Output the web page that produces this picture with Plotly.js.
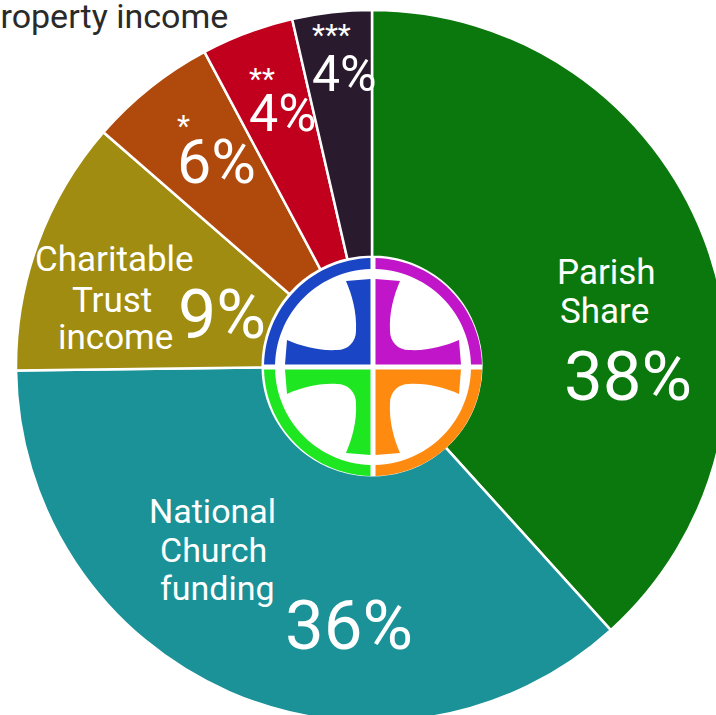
<!DOCTYPE html>
<html>
<head>
<meta charset="utf-8">
<script src="https://cdn.plot.ly/plotly-3.0.1.min.js"></script>
<style>
html,body{margin:0;padding:0;overflow:hidden;background:#fff;width:716px;height:715px;}
#chart{position:absolute;left:0;top:0;}
</style>
</head>
<body>
<div id="chart"></div>
<script>
// ---- data ----
const categories = ["Parish Share", "National Church funding", "Charitable Trust income", "*", "**", "***"];
const values = [38.3, 36.5, 11.6, 5.8, 4.2, 3.6];
const percentLabels = ["38%", "36%", "9%", "6%", "4%", "4%"];
const colors = ["#0b780d", "#1a9298", "#a08c10", "#b04a0c", "#c0001c", "#2a1a2e"];
const topNote = "Property income";

// ---- figure geometry (decoration helpers) ----
const W = 744, H = 732;
const px = x => x / W;
const py = y => 1 - y / H;

const pie = {
  type: "pie",
  labels: categories,
  values: values,
  sort: false,
  direction: "clockwise",
  rotation: 0,
  hole: 0.307,
  textinfo: "none",
  hoverinfo: "none",
  showlegend: false,
  marker: {colors: colors, line: {color: "#ffffff", width: 2.5}},
  domain: {x: [0, 1], y: [10 / H, (H - 10) / H]}
};

// ---- logo (cross in ring) ----
const cx = 373, cy = 367;
const logoColors = {tl: "#1a45c4", tr: "#c015c8", br: "#ff8a10", bl: "#1ee620"};
const shapes = [];
function P(x, y) { return px(cx + x).toFixed(5) + "," + py(cy + y).toFixed(5); }
function ringPath(sx, sy) {
  const R = 109, r = 98, g = 2.5;
  const a0 = Math.asin(g / R), a1 = Math.PI / 2 - Math.asin(g / R);
  const b0 = Math.asin(g / r), b1 = Math.PI / 2 - Math.asin(g / r);
  const n = 30;
  let d = "";
  for (let i = 0; i <= n; i++) {
    const a = a0 + (a1 - a0) * i / n;
    d += (i === 0 ? "M" : "L") + P(sx * R * Math.cos(a), sy * R * Math.sin(a));
  }
  for (let i = n; i >= 0; i--) {
    const a = b0 + (b1 - b0) * i / n;
    d += "L" + P(sx * r * Math.cos(a), sy * r * Math.sin(a));
  }
  return d + "Z";
}
function crossPath(sx, sy) {
  const g = 2.5;
  const p = (x, y) => P(sx * x, sy * y);
  return "M" + p(g, g) +
    "L" + p(g, 88) +
    "L" + p(27, 86) +
    "C" + p(21, 72) + " " + p(16, 55) + " " + p(17, 36) +
    "C" + p(17, 25) + " " + p(25, 17) + " " + p(36, 17) +
    "C" + p(55, 16) + " " + p(72, 21) + " " + p(86, 27) +
    "L" + p(88, g) + "Z";
}
[["tl", -1, -1], ["tr", 1, -1], ["br", 1, 1], ["bl", -1, 1]].forEach(([k, sx, sy]) => {
  shapes.push({type: "path", xref: "paper", yref: "paper", path: ringPath(sx, sy),
    fillcolor: logoColors[k], line: {width: 0}, layer: "above"});
  shapes.push({type: "path", xref: "paper", yref: "paper", path: crossPath(sx, sy),
    fillcolor: logoColors[k], line: {width: 0}, layer: "above"});
});

// ---- labels ----
const F = "Roboto, 'Noto Sans', sans-serif";
function ann(text, x, y, size, color, xanchor, align) {
  return {text: text, x: px(x), y: py(y), xref: "paper", yref: "paper",
    xanchor: xanchor || "center", yanchor: "middle", showarrow: false,
    align: align || "center",
    font: {family: F, size: size, color: color || "#ffffff"}};
}
function starred(stars, pct, pctSize) {
  return "<span style='font-size:30px'>" + stars + "</span><br>" +
         "<span style='font-size:" + pctSize + "px'>" + pct + "</span>";
}
const annotations = [
  ann("Parish", 606, 272, 35), ann("Share", 604, 311, 35),
  ann(percentLabels[0], 628, 376, 69),
  ann("National", 212, 511, 34), ann("Church", 213, 550, 34), ann("funding", 217, 588, 34),
  ann(percentLabels[1], 349, 625, 69),
  ann("Charitable", 114, 260, 35), ann("Trust", 112, 300, 35), ann("income", 115, 338, 35),
  ann(percentLabels[2], 222, 315, 68),
  ann(starred(categories[3], percentLabels[3], 61), 175, 153, 36, null, "left", "left"),
  ann(starred(categories[4], percentLabels[4], 52), 247, 102, 32, null, "left", "left"),
  ann(starred(categories[5], percentLabels[5], 50), 310, 60, 35, null, "left", "left"),
  ann(topNote, 230, 16, 34, "#2a2a2a", "right")
];

Plotly.newPlot("chart", [pie], {
  width: W, height: H,
  margin: {l: 0, r: 0, t: 0, b: 0, pad: 0},
  paper_bgcolor: "#ffffff", plot_bgcolor: "#ffffff",
  showlegend: false,
  shapes: shapes,
  annotations: annotations
}, {staticPlot: true, displayModeBar: false});
</script>
</body>
</html>
